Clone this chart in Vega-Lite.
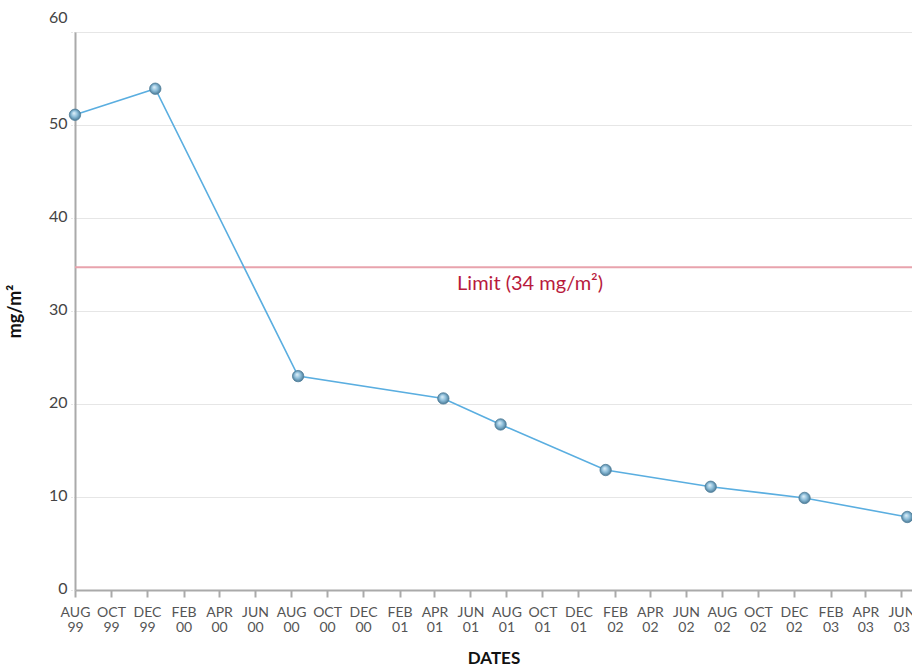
{
  "$schema": "https://vega.github.io/schema/vega-lite/v6.json",
  "width": 837,
  "height": 558,
  "autosize": "none",
  "padding": {"left": 75, "top": 32, "right": 0, "bottom": 81},
  "background": "white",
  "config": {
    "view": {"stroke": null},
    "font": "Lato",
    "axis": {"labelFont": "Lato", "titleFont": "Lato"}
  },
  "datasets": {
    "series": [
      {"date": "1999-08-01", "value": 51.1},
      {"date": "1999-12-15", "value": 53.9},
      {"date": "2000-08-13", "value": 23.0},
      {"date": "2001-04-16", "value": 20.6},
      {"date": "2001-07-22", "value": 17.8},
      {"date": "2002-01-16", "value": 12.9},
      {"date": "2002-07-13", "value": 11.1},
      {"date": "2002-12-19", "value": 9.9},
      {"date": "2003-06-11", "value": 7.85}
    ],
    "limit": [
      {"date": "2001-09-10", "value": 34.7, "label": "Limit (34 mg/m²)"}
    ]
  },
  "encoding": {
    "x": {
      "field": "date",
      "type": "temporal",
      "scale": {
        "type": "utc",
        "domain": [
          {"year": 1999, "month": 8, "date": 1, "utc": true},
          {"year": 2003, "month": 6, "date": 19, "utc": true}
        ]
      },
      "axis": {
        "title": "DATES",
        "titleFontSize": 17,
        "titleFontWeight": "bold",
        "titleColor": "#111",
        "titlePadding": 16,
        "domainColor": "#aaaaaa",
        "domainWidth": 2,
        "tickColor": "#aaaaaa",
        "tickWidth": 2,
        "tickSize": 7,
        "grid": false,
        "labelFontSize": 14,
        "labelColor": "#555555",
        "labelPadding": 8,
        "labelLineHeight": 15,
        "labelBaseline": "top",
        "labelFlush": false,
        "labelOverlap": false,
        "labelExpr": "[upper(utcFormat(datum.value, '%b')), utcFormat(datum.value, '%y')]",
        "values": [
          {"year": 1999, "month": 8, "date": 1, "utc": true},
          {"year": 1999, "month": 10, "date": 1, "utc": true},
          {"year": 1999, "month": 12, "date": 1, "utc": true},
          {"year": 2000, "month": 2, "date": 1, "utc": true},
          {"year": 2000, "month": 4, "date": 1, "utc": true},
          {"year": 2000, "month": 6, "date": 1, "utc": true},
          {"year": 2000, "month": 8, "date": 1, "utc": true},
          {"year": 2000, "month": 10, "date": 1, "utc": true},
          {"year": 2000, "month": 12, "date": 1, "utc": true},
          {"year": 2001, "month": 2, "date": 1, "utc": true},
          {"year": 2001, "month": 4, "date": 1, "utc": true},
          {"year": 2001, "month": 6, "date": 1, "utc": true},
          {"year": 2001, "month": 8, "date": 1, "utc": true},
          {"year": 2001, "month": 10, "date": 1, "utc": true},
          {"year": 2001, "month": 12, "date": 1, "utc": true},
          {"year": 2002, "month": 2, "date": 1, "utc": true},
          {"year": 2002, "month": 4, "date": 1, "utc": true},
          {"year": 2002, "month": 6, "date": 1, "utc": true},
          {"year": 2002, "month": 8, "date": 1, "utc": true},
          {"year": 2002, "month": 10, "date": 1, "utc": true},
          {"year": 2002, "month": 12, "date": 1, "utc": true},
          {"year": 2003, "month": 2, "date": 1, "utc": true},
          {"year": 2003, "month": 4, "date": 1, "utc": true},
          {"year": 2003, "month": 6, "date": 1, "utc": true}
        ]
      }
    },
    "y": {
      "field": "value",
      "type": "quantitative",
      "scale": {"domain": [0, 60], "nice": false},
      "axis": {
        "title": "mg/m²",
        "titleFontSize": 18,
        "titleFontWeight": "bold",
        "titleColor": "#111",
        "titlePadding": 24,
        "values": [0, 10, 20, 30, 40, 50, 60],
        "domainColor": "#aaaaaa",
        "domainWidth": 2,
        "tickColor": "#cccccc",
        "tickSize": 6,
        "tickDash": [1, 2],
        "gridColor": "#e6e6e6",
        "gridWidth": 1,
        "labelFontSize": 16,
        "labelColor": "#444444",
        "labelPadding": 2,
        "labelBaseline": "alphabetic",
        "labelOffset": {"condition": {"test": "datum.value == 60", "value": -10}, "value": 3},
        "labelFlush": false
      }
    }
  },
  "layer": [
    {
      "data": {"name": "limit"},
      "mark": {"type": "rule", "color": "#e8a3ad", "strokeWidth": 2},
      "encoding": {"x": null}
    },
    {
      "data": {"name": "limit"},
      "mark": {"type": "text", "color": "#b81a3c", "fontSize": 20, "dy": 17, "baseline": "middle", "align": "center", "font": "Lato"},
      "encoding": {"text": {"field": "label"}}
    },
    {
      "data": {"name": "series"},
      "mark": {"type": "line", "color": "#5aaee0", "strokeWidth": 1.6}
    },
    {
      "data": {"name": "series"},
      "mark": {
        "type": "point",
        "filled": true,
        "size": 130,
        "opacity": 1,
        "stroke": "#4f7d99",
        "strokeWidth": 0.8,
        "fill": {
          "gradient": "radial",
          "x1": 0.4, "y1": 0.35, "r1": 0,
          "x2": 0.5, "y2": 0.5, "r2": 0.55,
          "stops": [
            {"offset": 0, "color": "#e4f3fb"},
            {"offset": 0.5, "color": "#8cbdd9"},
            {"offset": 1, "color": "#41708c"}
          ]
        }
      }
    }
  ]
}
